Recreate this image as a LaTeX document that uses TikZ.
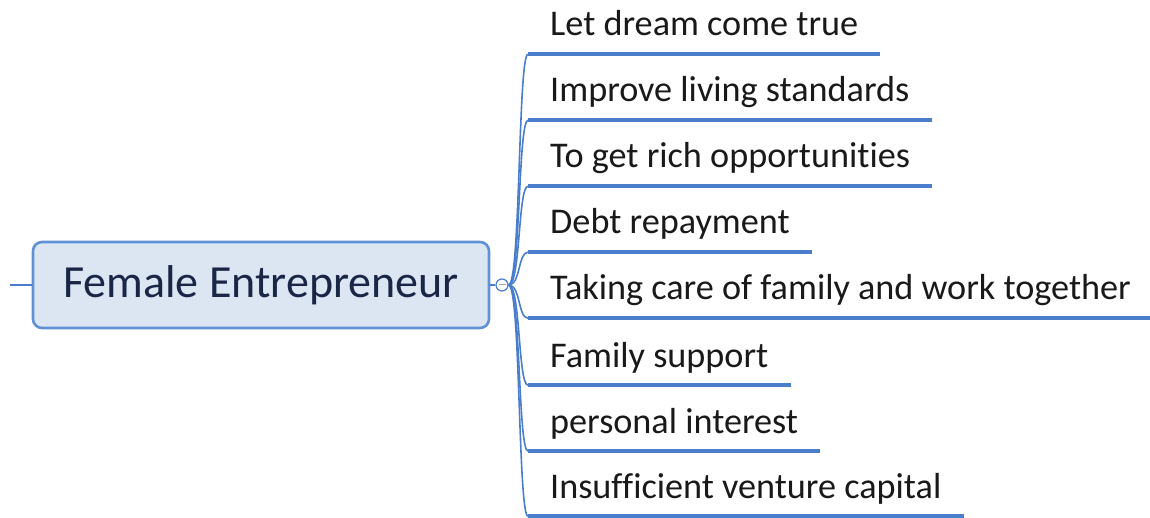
\documentclass[tikz,border=0pt]{standalone}
\usepackage{fontspec}
\setmainfont{Carlito}[Ligatures={NoCommon}]
\usetikzlibrary{calc}
\definecolor{lineblue}{RGB}{74,126,204}
\definecolor{boxblue}{RGB}{95,145,212}
\definecolor{boxfill}{RGB}{220,230,242}
\definecolor{maintext}{RGB}{25,38,70}
\begin{document}
\begin{tikzpicture}[x=1pt,y=-1pt,
  leaf/.style={anchor=base west,inner xsep=22pt,inner ysep=18pt,text depth=0pt,
    font=\fontsize{36.2}{40}\selectfont,text=black!90},
  under/.style={draw=lineblue,line width=4pt},
  branch/.style={draw=lineblue,line width=1.6pt},
  mainbox/.style={draw=boxblue,fill=boxfill,line width=2.6pt,rounded corners=9pt,
    minimum width=456pt,minimum height=86pt,font=\fontsize{46}{50}\selectfont,text=maintext}]
\useasboundingbox (0,0) rectangle (1150,518);
\node[mainbox] (main) at (261,285) {Female Entrepreneur};
\coordinate (stub) at (10,285);
\draw[branch] (stub) -- (main.west);
\node[draw=lineblue,fill=white,circle,minimum size=12pt,inner sep=0pt,line width=1.2pt] (hub) at (502,285) {};
\draw[gray!70,line width=1pt] ($(hub.center)+(-3.5,0)$) -- ($(hub.center)+(3.5,0)$);
\draw[branch] (main.east) -- (hub.west);
\foreach \i/\y/\t in {1/36/Let dream come true,
  2/102/Improve living standards,
  3/168/To get rich opportunities,
  4/234/Debt repayment,
  5/300/Taking care of family and work together,
  6/367/Family support,
  7/433/personal interest,
  8/498/Insufficient venture capital}{
  \node[leaf] (n\i) at (528,\y) {\t};
  \draw[branch] (hub.east) .. controls +(12,0) and +(-10,0) .. (n\i.south west);
  \draw[under] (n\i.south west) -- (n\i.south east);
}
\end{tikzpicture}
\end{document}
